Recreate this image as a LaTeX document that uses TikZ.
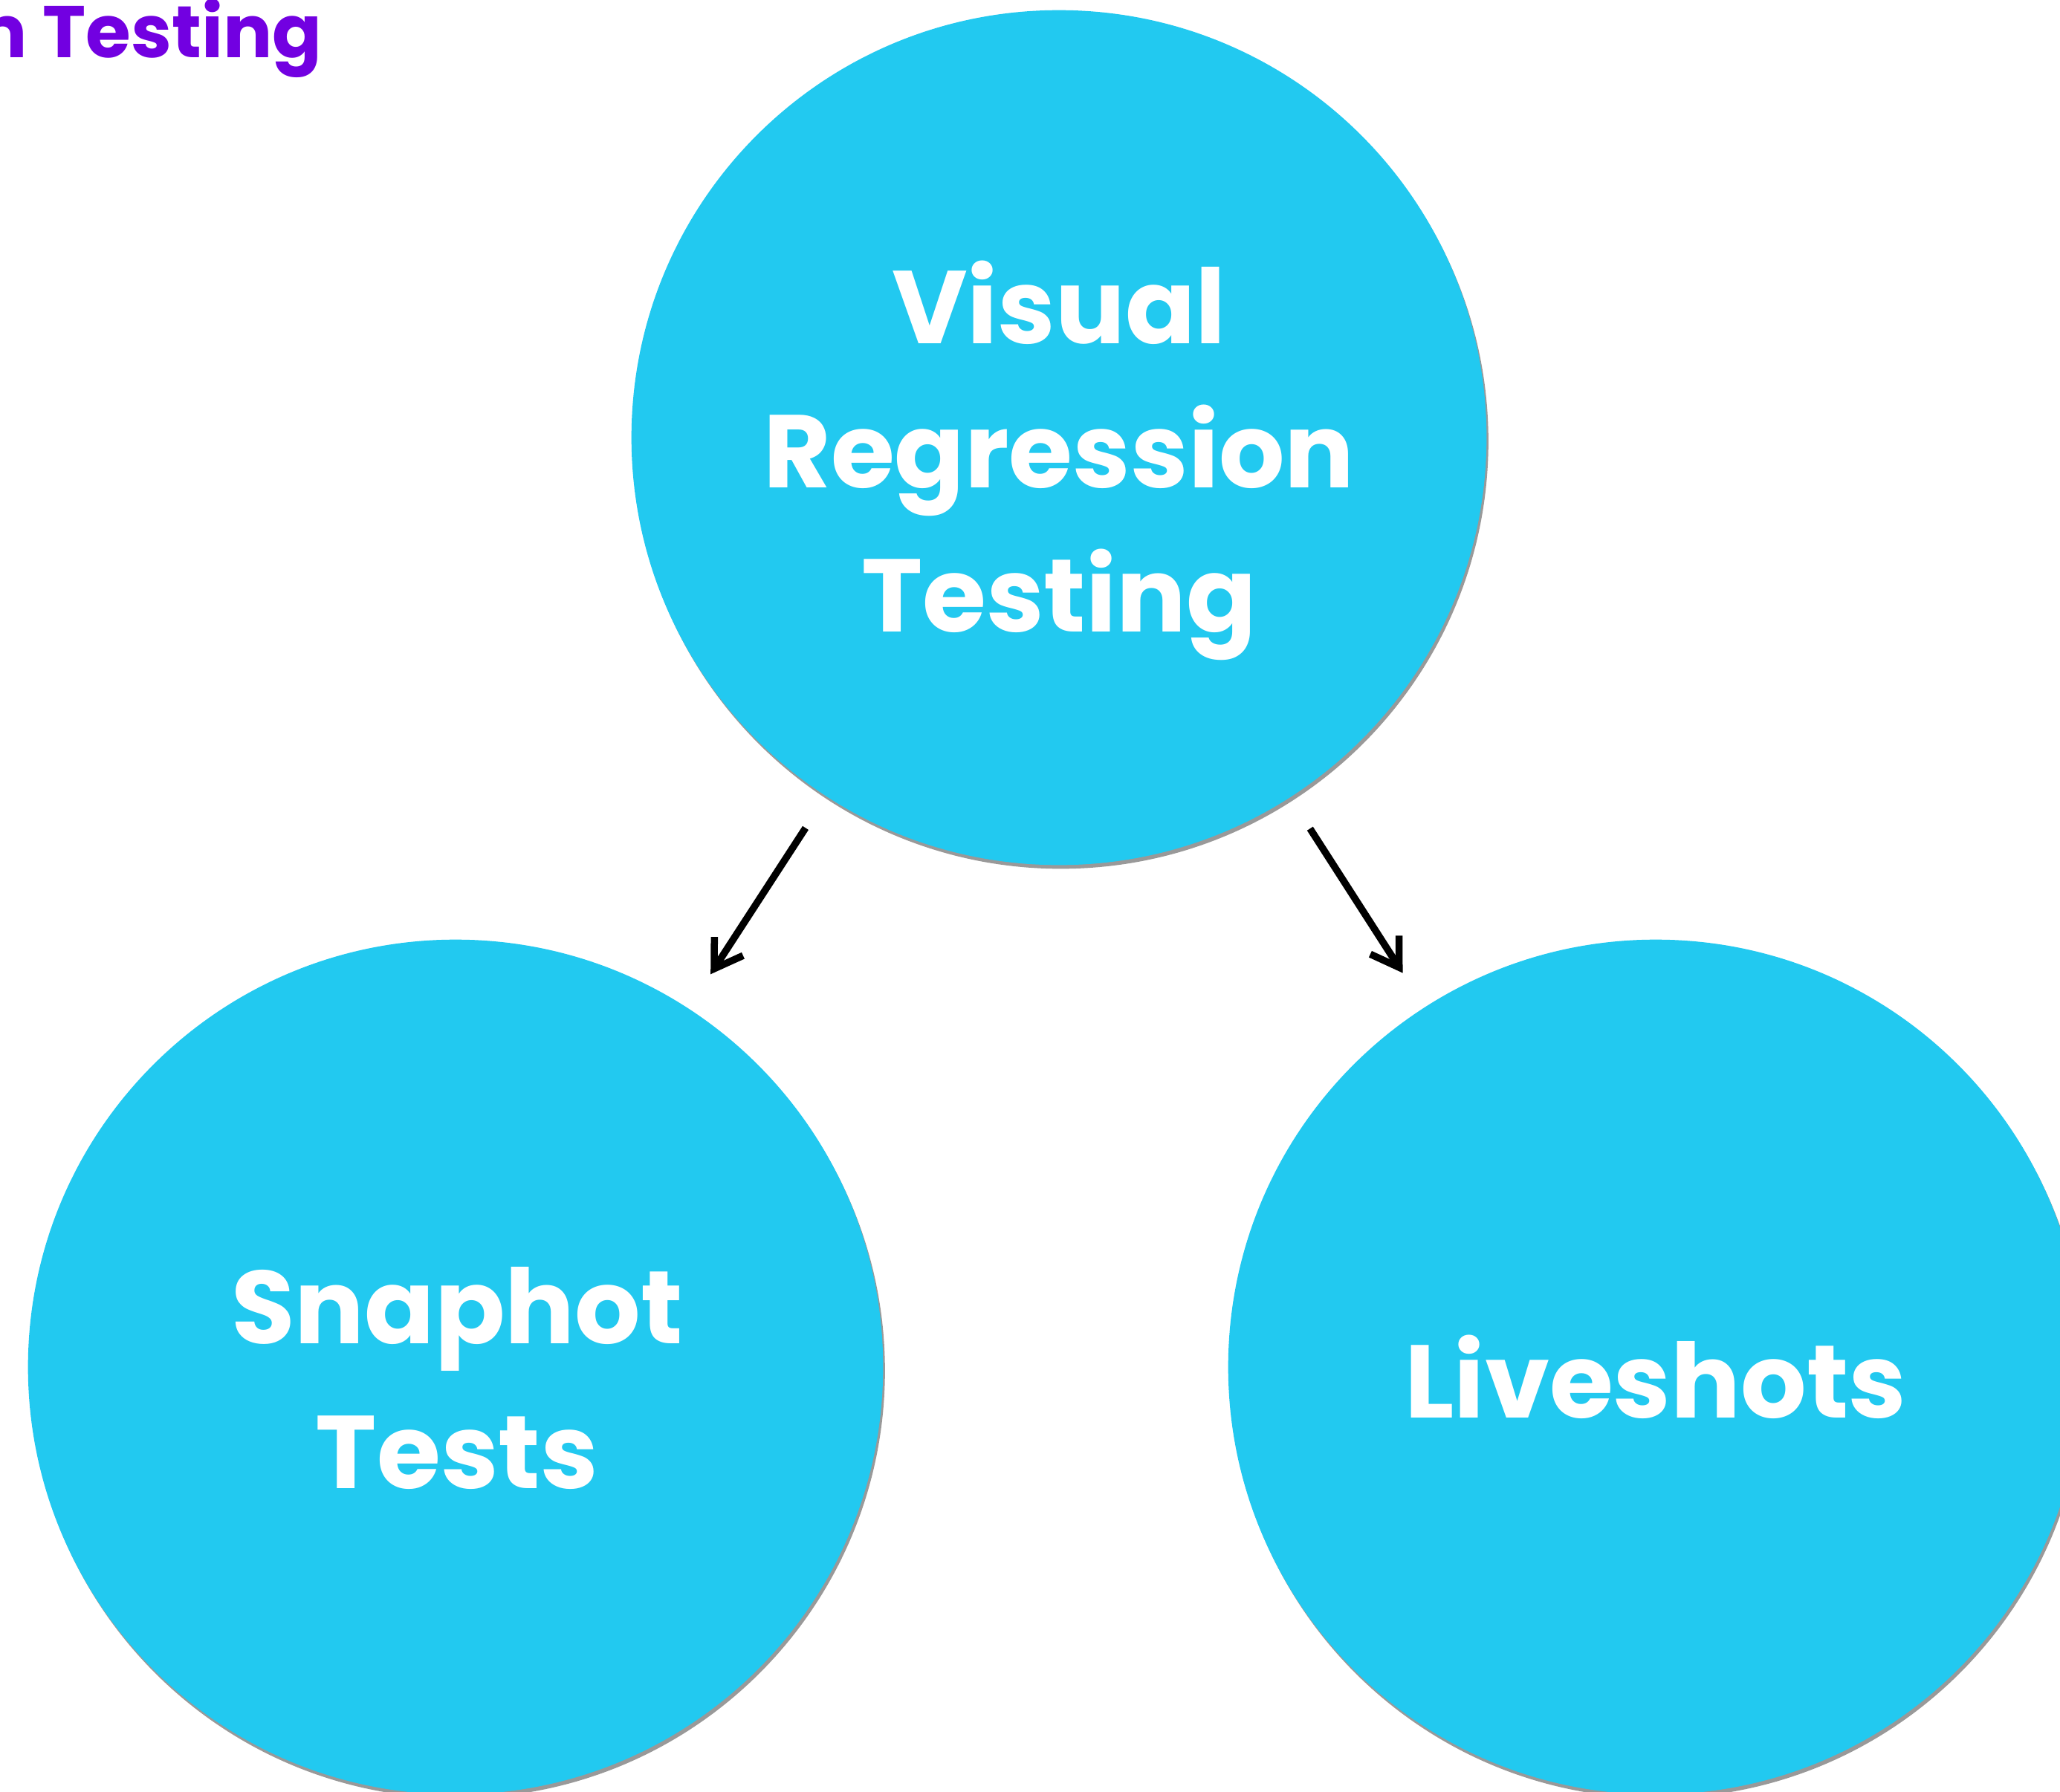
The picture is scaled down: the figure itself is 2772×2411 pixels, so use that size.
\documentclass[tikz,border=0pt]{standalone}
\usepackage{fontspec}
\setmainfont{Poppins}
\usetikzlibrary{arrows.meta,shadows}
\definecolor{bubble}{HTML}{22C9F0}
\definecolor{titlepurple}{HTML}{7200E1}
\tikzset{
  bubble/.style={circle, fill=bubble, minimum size=11.5cm, inner sep=0pt, outer sep=0pt,
    drop shadow={shadow xshift=0.025cm, shadow yshift=-0.05cm, fill=black, opacity=0.4}},
  bubbletext/.style={text=white, align=center, font=\fontsize{39.6}{55.2}\selectfont\bfseries, inner sep=0pt},
  arr/.style={draw=black, line width=0.095cm, -{Straight Barb[length=0.36cm,width=0.46cm,line join=miter]}},
  titletext/.style={text=titlepurple, font=\fontsize{28}{33}\selectfont\bfseries, inner sep=0pt}
}
\begin{document}
\begin{tikzpicture}[x=0.01cm,y=-0.01cm]
\useasboundingbox (0,0) rectangle (2772,2411);
\node[titletext, anchor=base east] (title) at (434,77) {n Testing};
\node[bubble] (top) at (1425,589) {};
\node[bubble] (left) at (613,1840) {};
\node[bubble] (right) at (2228,1840) {};
\node[bubbletext] (toplbl) at (1425,620) {Visual\\Regression\\Testing};
\node[bubbletext] (leftlbl) at (615,1855) {Snaphot\\Tests};
\node[bubbletext] (rightlbl) at (2228,1853) {Liveshots};
\draw[arr, shorten <=0.51cm, shorten >=0.55cm] (top) -- (left);
\draw[arr, shorten <=0.50cm, shorten >=0.55cm] (top) -- (right);
\end{tikzpicture}
\end{document}
